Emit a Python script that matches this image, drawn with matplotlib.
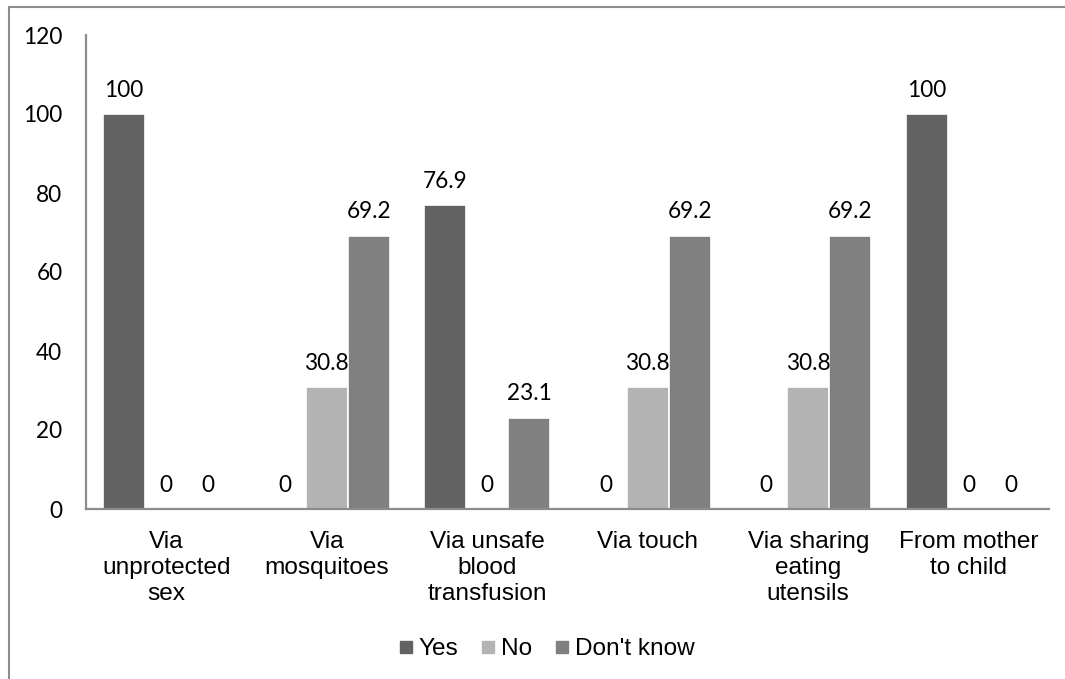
#!/usr/bin/env python3

from matplotlib import pyplot as plt
from matplotlib.lines import Line2D
from matplotlib.patches import Rectangle
import numpy as np


W, H, DPI = 1065, 679, 100

categories = ["Via\nunprotected\nsex", "Via\nmosquitoes",
              "Via unsafe\nblood\ntransfusion", "Via touch",
              "Via sharing\neating\nutensils", "From mother\nto child"]
series = ["Yes", "No", "Don't know"]
yes = [100, 0, 76.9, 0, 0, 100]
no = [0, 30.8, 0, 30.8, 30.8, 0]
dont_know = [0, 69.2, 23.1, 69.2, 69.2, 0]
colors = ["#626262", "#b3b3b3", "#808080"]

GRAY = "#8c8c8c"
NUM_FONT = ["Lato", "DejaVu Sans"]
TXT_FONT = ["Liberation Sans", "DejaVu Sans"]
NUM_SIZE = 16.3
TXT_SIZE = 17.6


def main():
    fig = plt.figure(figsize=(W / DPI, H / DPI), dpi=DPI)
    ax = fig.add_axes([86 / W, 1 - 509 / H, (1049 - 86) / W, (509 - 35) / H])

    x = np.arange(len(categories))
    width = 0.262
    for i, (vals, col) in enumerate(zip([yes, no, dont_know], colors)):
        pos = x + (i - 1) * width
        ax.bar(pos, vals, width, color=col, edgecolor="white", linewidth=1.2)
        for px, v in zip(pos, vals):
            ax.annotate("%g" % v, (px, v), xytext=(0, 12.5),
                        textcoords="offset points", ha="center",
                        va="baseline", fontsize=NUM_SIZE, family=NUM_FONT)

    ax.set_xlim(-0.5, len(categories) - 0.5)
    ax.set_ylim(0, 120)
    ax.set_yticks(range(0, 121, 20))
    ax.set_xticks(x)
    ax.set_xticklabels(categories, family=TXT_FONT, fontsize=TXT_SIZE,
                       linespacing=1.24)
    for lab in ax.get_yticklabels():
        lab.set_family(NUM_FONT)
        lab.set_fontsize(NUM_SIZE)
    ax.tick_params(axis="y", length=0, pad=17)
    ax.tick_params(axis="x", length=0, pad=16)

    for side in ["top", "right"]:
        ax.spines[side].set_visible(False)
    for side in ["left", "bottom"]:
        ax.spines[side].set_color(GRAY)
        ax.spines[side].set_linewidth(1.6)

    handles = [Line2D([], [], marker="s", linestyle="none", markersize=8,
                      markerfacecolor=c, markeredgecolor=c) for c in colors]
    fig.legend(handles, series, loc="center", ncol=3,
               bbox_to_anchor=(547 / W, 1 - 649 / H), frameon=False,
               prop={"family": TXT_FONT, "size": TXT_SIZE},
               handlelength=0.5, handletextpad=0.25, columnspacing=1.0)

    # outer chart frame, running off the right and bottom edges
    fig.patches.append(Rectangle((8.5 / W, -0.1), 2, 1 - 7.5 / H + 0.1,
                                 transform=fig.transFigure, fill=False,
                                 edgecolor=GRAY, linewidth=1.5))

    fig.savefig("out.png", dpi=DPI)


if __name__ == "__main__":
    main()
